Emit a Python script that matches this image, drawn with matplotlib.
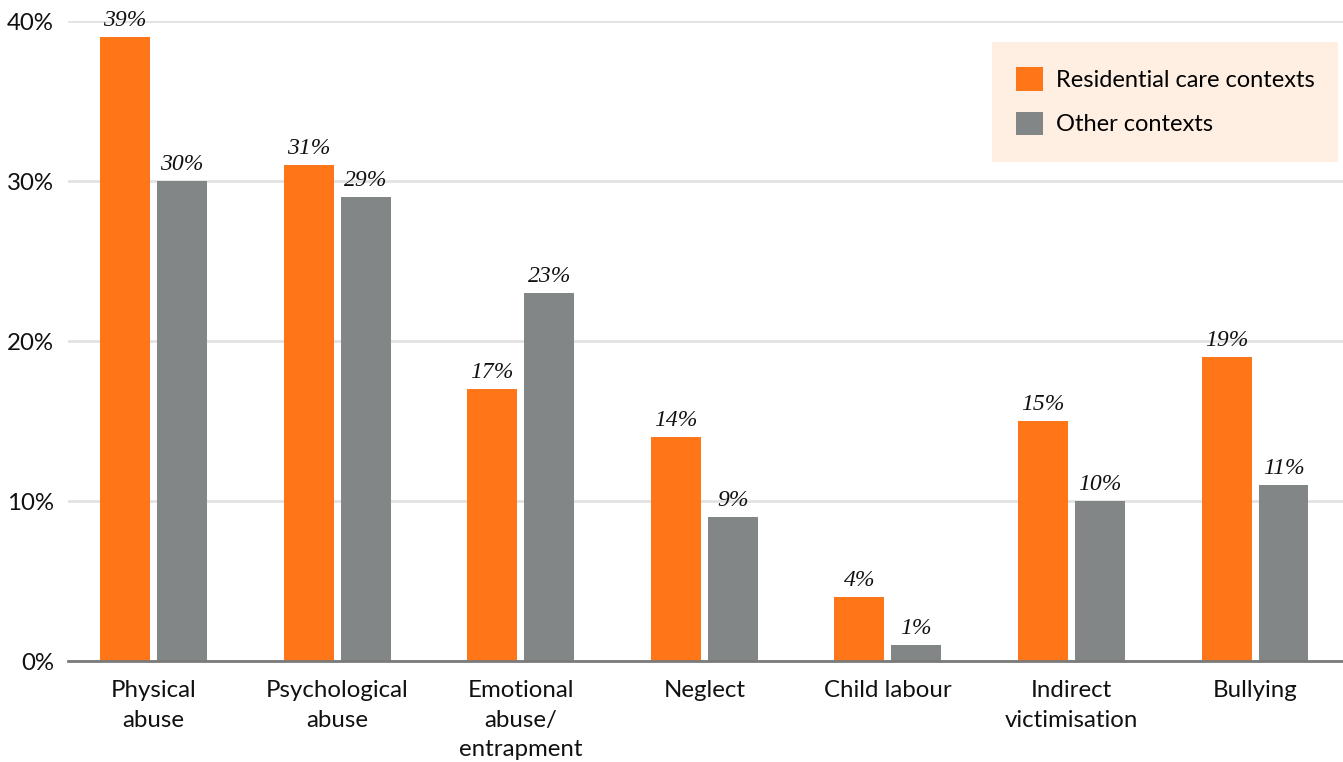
import numpy as np
import matplotlib.pyplot as plt
from matplotlib.patches import Patch, Rectangle

categories = ["Physical\nabuse", "Psychological\nabuse", "Emotional\nabuse/\nentrapment",
              "Neglect", "Child labour", "Indirect\nvictimisation", "Bullying"]
residential = [39, 31, 17, 14, 4, 15, 19]
other = [30, 29, 23, 9, 1, 10, 11]

orange = "#FF7619"
grey = "#828686"

plt.rcParams['font.family'] = ['Lato', 'DejaVu Sans']

fig = plt.figure(figsize=(13.43, 7.62), dpi=100)
ax = fig.add_axes([68 / 1343, 1 - 661 / 762, 1 - 68 / 1343, 640 / 762])

x = np.arange(len(categories))
w = 0.272
off = 0.155
b1 = ax.bar(x - off, residential, w, color=orange, zorder=3)
b2 = ax.bar(x + off, other, w, color=grey, zorder=3)

for bars, vals in ((b1, residential), (b2, other)):
    for r, v in zip(bars, vals):
        ax.annotate(f"{v}%", (r.get_x() + r.get_width() / 2, v),
                    xytext=(0, 4), textcoords="offset points",
                    ha="center", va="bottom", fontsize=17, style="italic",
                    family="Liberation Serif", color="#111111",
                    clip_on=False, zorder=4)

ax.set_xlim(-0.466, 6.479)
ax.set_ylim(0, 40)
ax.set_yticks([0, 10, 20, 30, 40])
ax.set_yticklabels(["0%", "10%", "20%", "30%", "40%"])
ax.set_xticks(x)
ax.set_xticklabels(categories, linespacing=1.5, va="top")
ax.tick_params(axis="both", length=0, labelsize=17.3, labelcolor="#111111")
ax.tick_params(axis="x", pad=14)
ax.tick_params(axis="y", pad=10)

ax.grid(axis="y", color="#E2E2E2", linewidth=2, zorder=0)
for s in ["top", "right", "left"]:
    ax.spines[s].set_visible(False)
ax.spines["bottom"].set_color("#7A7A7A")
ax.spines["bottom"].set_linewidth(2)
ax.spines["bottom"].set_zorder(5)

# legend panel
ax.add_patch(Rectangle((0.7247, 0.78), 0.2714, 0.187, transform=ax.transAxes,
                       facecolor="#FFEEE2", edgecolor="none", zorder=6))
handles = [Patch(facecolor=orange, label="Residential care contexts"),
           Patch(facecolor=grey, label="Other contexts")]
leg = ax.legend(handles=handles, loc="upper left", bbox_to_anchor=(0.7432, 0.928),
                frameon=False, fontsize=17, handlelength=1.15, handleheight=1.15,
                handletextpad=0.55, labelspacing=0.88, borderaxespad=0,
                borderpad=0)
leg.set_zorder(7)

fig.savefig("out.png", dpi=100)
